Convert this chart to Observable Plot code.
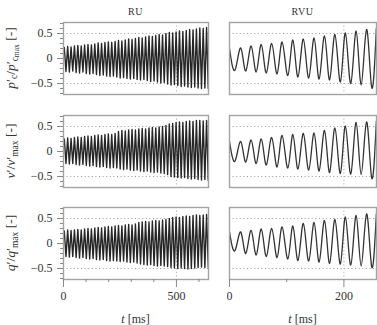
<!DOCTYPE html>
<html><head><meta charset="utf-8">
<script src="https://cdn.jsdelivr.net/npm/d3@7"></script>
<script src="https://cdn.jsdelivr.net/npm/@observablehq/plot@0.6"></script>
<style>
body{margin:0;background:#fff;}
#c{position:relative;width:377px;height:325px;font-family:"Liberation Serif",serif;color:#333;overflow:hidden}
#c svg text{font-family:"Liberation Serif",serif !important}
.p{position:absolute}
.lab{position:absolute;white-space:nowrap;line-height:1}
.ylab{position:absolute;white-space:nowrap;line-height:1;transform:translate(-50%,-50%) rotate(-90deg);font-size:13.5px;font-family:"Liberation Serif",serif}
.ylab sub{font-size:70%;vertical-align:-0.3em}
.ylab sub sub{font-size:80%;vertical-align:-0.2em}
</style></head><body><div id="c"></div><script>
// ---- data ----
const columns = ["RU", "RVU"];
const xTicksRU = [0, 500];
const xMinorRU = [100, 200, 300, 400, 600];
const xTicksRVU = [0, 200];
const xMinorRVU = [100];
const yTicks = [-0.5, 0, 0.5];
const yMinor = [-0.7, -0.6, -0.4, -0.3, -0.2, -0.1, 0.1, 0.2, 0.3, 0.4, 0.6, 0.7];

// RU: one peak and one trough per oscillation cycle (period ~15 ms)
const ruCycleMs = 15;
const ruPcPeaks = [0.22,0.24,0.23,0.25,0.26,0.25,0.27,0.28,0.27,0.29,0.31,0.30,0.32,0.33,0.32,0.34,0.36,0.35,0.37,0.39,0.38,0.40,0.42,0.41,0.43,0.45,0.44,0.46,0.48,0.47,0.50,0.52,0.51,0.53,0.55,0.54,0.56,0.58,0.57,0.59,0.61,0.60,0.62];
const ruPcTroughs = [-0.26,-0.27,-0.25,-0.28,-0.29,-0.27,-0.30,-0.31,-0.30,-0.32,-0.34,-0.33,-0.35,-0.36,-0.35,-0.37,-0.39,-0.38,-0.40,-0.41,-0.40,-0.42,-0.43,-0.42,-0.44,-0.46,-0.45,-0.47,-0.49,-0.48,-0.51,-0.53,-0.52,-0.54,-0.56,-0.55,-0.57,-0.58,-0.57,-0.59,-0.60,-0.59,-0.60];
const ruVPeaks = [0.25,0.27,0.26,0.28,0.29,0.28,0.30,0.31,0.30,0.32,0.33,0.32,0.34,0.35,0.34,0.36,0.40,0.42,0.41,0.43,0.44,0.43,0.45,0.46,0.45,0.47,0.48,0.47,0.49,0.50,0.52,0.55,0.56,0.58,0.59,0.58,0.60,0.61,0.60,0.62,0.62,0.61,0.62];
const ruVTroughs = [-0.24,-0.25,-0.24,-0.26,-0.27,-0.26,-0.28,-0.29,-0.28,-0.30,-0.31,-0.30,-0.32,-0.33,-0.32,-0.33,-0.35,-0.36,-0.35,-0.37,-0.38,-0.37,-0.39,-0.40,-0.39,-0.41,-0.42,-0.41,-0.43,-0.44,-0.46,-0.50,-0.51,-0.52,-0.53,-0.52,-0.54,-0.55,-0.54,-0.56,-0.57,-0.56,-0.58];
const ruQPeaks = [0.25,0.27,0.26,0.27,0.28,0.27,0.29,0.30,0.29,0.31,0.32,0.31,0.33,0.34,0.33,0.35,0.36,0.35,0.37,0.38,0.37,0.39,0.42,0.43,0.44,0.43,0.45,0.46,0.45,0.47,0.48,0.50,0.52,0.53,0.52,0.54,0.55,0.54,0.56,0.57,0.56,0.57,0.58];
const ruQTroughs = [-0.26,-0.27,-0.26,-0.28,-0.29,-0.28,-0.30,-0.31,-0.30,-0.32,-0.33,-0.32,-0.34,-0.35,-0.34,-0.35,-0.36,-0.35,-0.37,-0.38,-0.37,-0.39,-0.41,-0.42,-0.43,-0.42,-0.44,-0.45,-0.44,-0.45,-0.46,-0.48,-0.49,-0.50,-0.49,-0.50,-0.51,-0.50,-0.49,-0.48,-0.47,-0.48,-0.47];

// RVU: times (ms) of successive extrema and their values
const rvuT = [0,9.7,19.7,28.5,37.9,46.7,55.6,64.4,73.8,83.2,92,102,110.8,119.7,129.1,138.5,147.9,156.7,166.1,175,184.3,193.8,202.6,212,221.4,230.2,239.6,248.5,256.7];
const rvuPc = [0.20,-0.23,0.21,-0.25,0.25,-0.27,0.28,-0.29,0.30,-0.31,0.33,-0.34,0.37,-0.37,0.39,-0.39,0.41,-0.41,0.45,-0.43,0.48,-0.47,0.51,-0.50,0.55,-0.53,0.58,-0.57,0.60];
const rvuV = [0.20,-0.19,0.20,-0.21,0.23,-0.24,0.25,-0.27,0.28,-0.31,0.32,-0.33,0.34,-0.35,0.36,-0.37,0.37,-0.39,0.42,-0.42,0.47,-0.44,0.51,-0.45,0.58,-0.46,0.59,-0.52,0.60];
const rvuQ = [0.23,-0.14,0.23,-0.20,0.26,-0.23,0.29,-0.26,0.30,-0.28,0.33,-0.31,0.35,-0.34,0.40,-0.35,0.42,-0.37,0.46,-0.40,0.48,-0.41,0.53,-0.43,0.56,-0.45,0.59,-0.46,0.59];

const rowLabels = [
  '<i>p</i>′<sub>c</sub>/<i>p</i>′<sub>c<sub>max</sub></sub> [-]',
  '<i>v</i>′/<i>v</i>′<sub>max</sub> [-]',
  '<i>q</i>′/<i>q</i>′<sub>max</sub> [-]'
];

// ---- build tables ----
function ruSeries(peaks, troughs) {
  const out = [];
  peaks.forEach((p, k) => {
    out.push({t: k * ruCycleMs + 3.5, v: p});
    out.push({t: k * ruCycleMs + 11, v: troughs[k]});
  });
  return out;
}
const rvuSeries = vals => rvuT.map((t, i) => ({t, v: vals[i]}));
const series = [
  [ruSeries(ruPcPeaks, ruPcTroughs), rvuSeries(rvuPc)],
  [ruSeries(ruVPeaks, ruVTroughs), rvuSeries(rvuV)],
  [ruSeries(ruQPeaks, ruQTroughs), rvuSeries(rvuQ)]
];

// ---- layout ----
const rowTop = [22, 115, 207];
const frameH = 72;
const colLeft = [63, 229];
const colW = [145, 147];
const xDom = [[0, 642], [0, 257]];
const c = document.getElementById("c");
const fmt = d => d === 0 ? "0" : (d < 0 ? "−" : "") + Math.abs(d);

for (let r = 0; r < 3; r++) {
  for (let col = 0; col < 2; col++) {
    const mL = col === 0 ? 63 : 2, mR = col === 0 ? 2 : 1;
    const mT = 4, mB = r === 2 ? 26 : 4;
    const marks = [
      Plot.ruleY([-0.5, 0.5], {stroke: "#9a9a9a", strokeDasharray: "1,2.6", strokeWidth: 1}),
      Plot.ruleX([col === 0 ? 500 : 200], {stroke: "#9a9a9a", strokeDasharray: "1,2.6", strokeWidth: 1}),
      Plot.line(series[r][col], {x: "t", y: "v", stroke: col === 0 ? "#262626" : "#333",
        strokeWidth: col === 0 ? 1.4 : 1.3, curve: col === 0 ? "linear" : "natural", clip: true}),
      Plot.frame({stroke: "#a3a3a3", strokeWidth: 1.4})
    ];
    if (col === 0) {
      marks.push(Plot.axisY(yTicks, {label: null, tickSize: 6, tickPadding: 5, tickFormat: fmt, stroke: "#888", fill: "#333", fontSize: 12}));
      marks.push(Plot.axisY(yMinor, {label: null, tickSize: 3, tickFormat: () => "", stroke: "#888"}));
    }
    if (r === 2) {
      marks.push(Plot.axisX(col === 0 ? xTicksRU : xTicksRVU, {label: null, tickSize: 8, tickPadding: 4, tickFormat: fmt, stroke: "#888", fill: "#333", fontSize: 12}));
      marks.push(Plot.axisX(col === 0 ? xMinorRU : xMinorRVU, {label: null, tickSize: 3, tickFormat: () => "", stroke: "#888"}));
    }
    const svg = Plot.plot({
      width: mL + colW[col] + mR,
      height: mT + frameH + mB,
      marginLeft: mL, marginRight: mR, marginTop: mT, marginBottom: mB,
      x: {domain: xDom[col], axis: null, label: null},
      y: {domain: [-0.72, 0.72], axis: null, label: null},
      style: {fontFamily: "Liberation Serif, serif", fontSize: "12px", background: "transparent", color: "#333"},
      marks
    });
    svg.classList.add("p");
    svg.style.left = (colLeft[col] - mL) + "px";
    svg.style.top = (rowTop[r] - mT) + "px";
    c.appendChild(svg);
  }
  const yl = document.createElement("div");
  yl.className = "ylab";
  yl.innerHTML = rowLabels[r];
  yl.style.left = "12px";
  yl.style.top = (rowTop[r] + frameH / 2) + "px";
  c.appendChild(yl);
}

columns.forEach((name, col) => {
  const t = document.createElement("div");
  t.className = "lab";
  t.textContent = name;
  t.style.fontSize = "10px";
  t.style.letterSpacing = "0.5px";
  t.style.left = (colLeft[col] + colW[col] / 2) + "px";
  t.style.top = "7px";
  t.style.transform = "translateX(-50%)";
  c.appendChild(t);
  const xl = document.createElement("div");
  xl.className = "lab";
  xl.innerHTML = "<i>t</i> [ms]";
  xl.style.fontSize = "12px";
  xl.style.left = (colLeft[col] + colW[col] / 2) + "px";
  xl.style.top = "313px";
  xl.style.transform = "translateX(-50%)";
  c.appendChild(xl);
});
</script></body></html>
